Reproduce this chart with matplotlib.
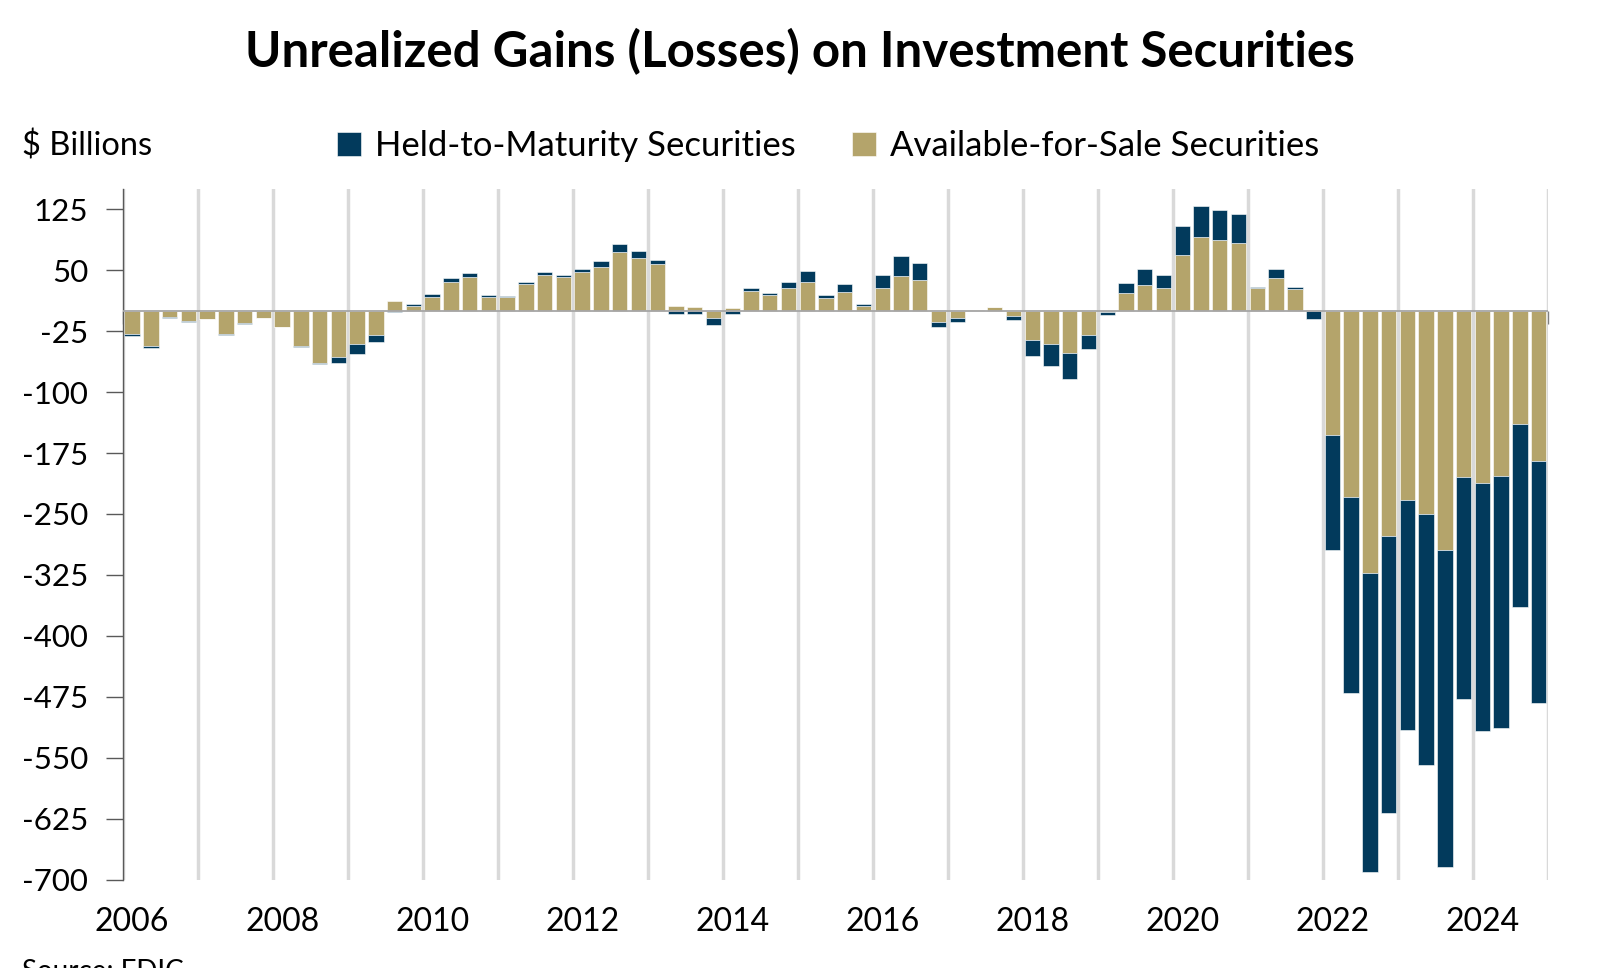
import numpy as np
import matplotlib.pyplot as plt

years = list(range(2006, 2025))
quarters = [str(y) + 'Q' + str(q) for y in years for q in range(1, 5)]

# Available-for-Sale, $ billions, quarterly 2006Q1 - 2024Q4
afs = [-29.1, -43.1, -7.4, -13.1,
       -9.8, -28.3, -15.2, -8.6,
       -19.3, -43.5, -64.4, -57.0,
       -41.4, -29.5, 12.7, 5.7,
       17.6, 35.7, 41.8, 17.6,
       16.8, 33.2, 44.7, 41.4,
       47.6, 53.7, 72.6, 65.2,
       57.4, 5.7, 5.3, -9.4,
       4.1, 24.6, 18.9, 27.5,
       36.1, 15.6, 22.6, 5.7,
       28.7, 43.1, 38.2, -13.9,
       -9.0, 1.6, 4.5, -6.6,
       -35.3, -41.0, -52.1, -29.9,
       -1.5, 21.7, 32.0, 27.5,
       69.3, 90.3, 87.4, 83.3,
       28.3, 39.8, 26.3, 1.0,
       -153.1, -229.0, -322.2, -277.4,
       -232.3, -249.6, -294.3, -204.4,
       -211.4, -203.6, -139.2, -184.4]

# Held-to-Maturity, $ billions
htm = [-2.1, -2.9, -1.6, -1.2,
       -0.5, -1.6, -1.6, -0.4,
       -0.3, -1.2, -1.6, -6.6,
       -12.3, -8.6, -1.6, 2.9,
       3.3, 4.1, 5.3, 2.5,
       1.6, 2.9, 3.3, 3.3,
       4.5, 7.4, 9.4, 8.2,
       5.7, -4.1, -4.1, -8.6,
       -3.3, 4.1, 2.5, 8.6,
       13.1, 3.3, 10.7, 2.9,
       15.6, 23.8, 20.9, -6.2,
       -4.9, 0.0, 0.8, -4.1,
       -20.1, -26.3, -31.2, -17.2,
       -3.5, 13.1, 20.1, 16.0,
       34.5, 39.0, 36.1, 35.7,
       0.8, 11.1, 2.5, -10.3,
       -140.8, -240.9, -368.0, -341.0,
       -283.9, -309.3, -390.5, -273.3,
       -305.6, -309.4, -225.2, -298.2]

yticks = list(range(-700, 126, 75))
label_years = [y for y in years if y % 2 == 0]

navy = '#023a5c'
tan = '#b4a46b'

plt.rcParams['font.family'] = ['Lato', 'DejaVu Sans']

fig = plt.figure(figsize=(16, 9.68), dpi=100)
ax = fig.add_axes([0.0767, 0.0913, 0.8908, 0.7135])

x = np.arange(len(quarters))
afs_arr = np.array(afs)
htm_arr = np.array(htm)
# HTM stacks on top of AFS only when both go the same way
bottom_htm = np.where(np.sign(afs_arr) == np.sign(htm_arr), afs_arr, 0)

b_afs = ax.bar(x, afs_arr, width=0.82, color=tan, edgecolor='white',
               linewidth=0.4, zorder=2, label='Available-for-Sale Securities')
b_htm = ax.bar(x, htm_arr, bottom=bottom_htm, width=0.82, color=navy,
               edgecolor='white', linewidth=0.4, zorder=2,
               label='Held-to-Maturity Securities')

ax.set_xlim(-0.5, len(quarters) - 0.5)
ax.set_ylim(-700, 150)

# year boundaries -> vertical grid
boundaries = [4 * i - 0.5 for i in range(len(years) + 1)]
ax.set_xticks(boundaries, minor=True)
ax.grid(which='minor', axis='x', color='#d9d9d9', linewidth=2.5, zorder=0)
ax.tick_params(axis='x', which='minor', length=0)

label_pos = [4 * years.index(y) for y in label_years]
ax.set_xticks(label_pos)
ax.set_xticklabels([str(y) for y in label_years])
ax.tick_params(axis='x', which='major', length=0, pad=20, labelsize=23)

ax.set_yticks(yticks)
ax.set_yticklabels([str(v) for v in yticks])
ax.tick_params(axis='y', length=12, width=1, color='#595959', pad=13,
               labelsize=22.5)

for s in ['top', 'right', 'bottom']:
    ax.spines[s].set_visible(False)
ax.spines['left'].set_color('#595959')
ax.spines['left'].set_linewidth(1)

# zero line with small year ticks
ax.axhline(0, color='#a6a6a6', linewidth=1.3, zorder=3)
sec = ax.secondary_xaxis(700 / 850)
sec.set_xticks(boundaries)
sec.set_xticklabels([])
sec.tick_params(direction='in', length=9, width=1, color='#7f7f7f')
for s in sec.spines.values():
    s.set_visible(False)

fig.text(0.5, 0.947, 'Unrealized Gains (Losses) on Investment Securities',
         ha='center', va='center', fontsize=35.5, fontweight='bold')
fig.text(0.014, 0.849, '$ Billions', ha='left', va='center', fontsize=23.5)

fig.legend(handles=[b_htm, b_afs], loc='center', bbox_to_anchor=(0.5175, 0.849),
           ncol=2, frameon=False, fontsize=25, handlelength=0.7,
           handleheight=0.7, handletextpad=0.4, columnspacing=1.6)

fig.text(0.014, 0.0093, 'Source: FDIC', ha='left', va='top', fontsize=20)

fig.savefig('out.png', dpi=100)
